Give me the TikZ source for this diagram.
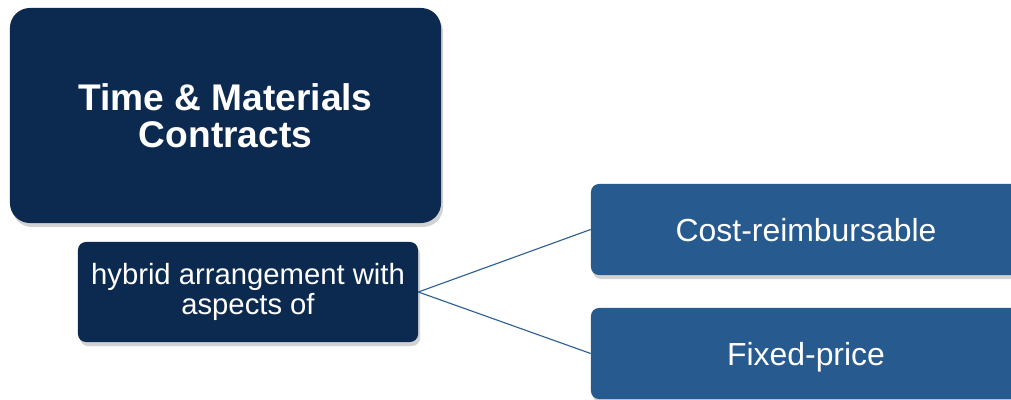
\documentclass[tikz,border=0pt]{standalone}
\usepackage{fontspec}
\setmainfont{Liberation Sans}
\usetikzlibrary{positioning,shadows}
\definecolor{tmnavy}{HTML}{0C2A50}
\definecolor{tmblue}{HTML}{275A8E}
\definecolor{tmline}{HTML}{2F5F93}
\tikzset{
  topbox/.style  = {fill=tmnavy, text=white, rounded corners=0.5cm,
                    minimum width=10.775cm, minimum height=5.375cm, align=center,
                    font=\fontsize{26.4}{26}\selectfont\bfseries,
                    drop shadow={opacity=0.35, shadow xshift=0.5mm, shadow yshift=-1mm}},
  subbox/.style  = {fill=tmnavy, text=white, rounded corners=0.2cm,
                    minimum width=8.5cm, minimum height=2.5cm, align=center,
                    font=\fontsize{20.8}{21.5}\selectfont,
                    drop shadow={opacity=0.35, shadow xshift=0.5mm, shadow yshift=-1mm}},
  kindbox/.style = {fill=tmblue, text=white, rounded corners=0.2cm,
                    minimum width=10.75cm, minimum height=2.275cm, align=center,
                    text height=16.6pt, text depth=0pt,
                    font=\fontsize{22.7}{24}\selectfont,
                    drop shadow={opacity=0.35, shadow xshift=0.5mm, shadow yshift=-1mm}},
  link/.style    = {draw=tmline, line width=0.8pt},
}
\begin{document}
\begin{tikzpicture}[x=0.025cm, y=-0.025cm]
\useasboundingbox (0,0) rectangle (1011,400);
\fill[white] (0,0) rectangle (1011,400);
% ---------------- main heading ----------------
\node[topbox] (tm) at (225.5,115.5) {Time \& Materials\\Contracts};
% ---------------- description ----------------
\node[subbox] (hyb) at (248,292) {hybrid arrangement with\\aspects of};
% ---------------- the two contract kinds ----------------
\node[kindbox] (cost) at (806,229.5) {Cost-reimbursable};
\node[kindbox] (fix) at (806,353.5) {Fixed-price};
% connectors
\draw[link] (hyb.east) -- (cost.west);
\draw[link] (hyb.east) -- (fix.west);
\end{tikzpicture}
\end{document}
